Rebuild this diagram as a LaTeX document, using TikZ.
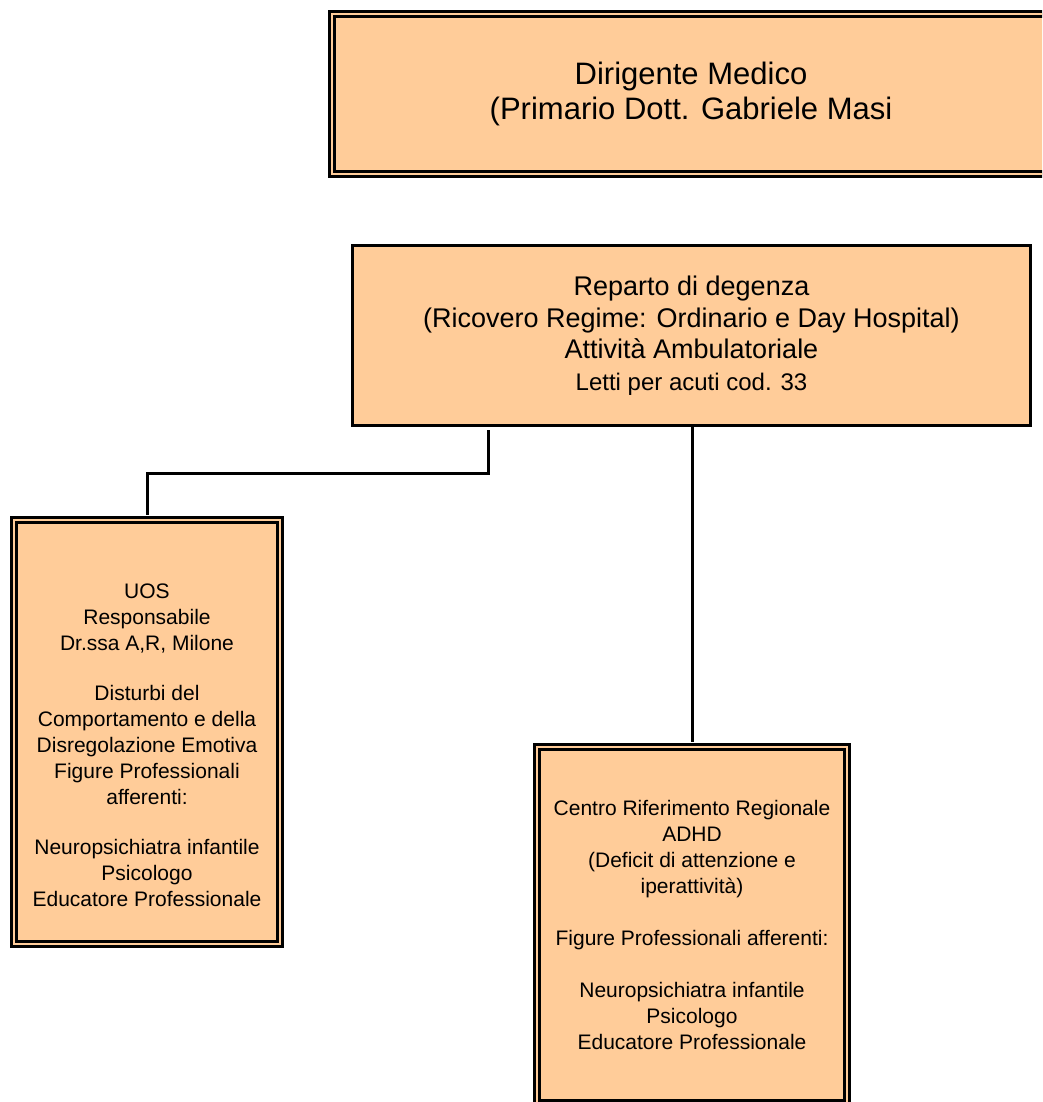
\documentclass[tikz,border=0pt]{standalone}
\usepackage{fontspec}
\setmainfont{Liberation Sans}
\definecolor{pesca}{HTML}{FFCC99}
\tikzset{box/.style={draw, fill=pesca, line width=3pt, inner sep=0pt, align=center},
  dbox/.style={box, line width=2.8pt, double=pesca, double distance=2pt},
  link/.style={line width=3pt}}

\begin{document}
\begin{tikzpicture}[x=1pt, y=-1pt]
\useasboundingbox (0,0) rectangle (1042,1102);
\clip (0,0) rectangle (1042,1102);
\node[dbox, minimum width=718pt, minimum height=160pt, font=\fontsize{31}{35.5}\selectfont] (Dir) at (691,94)
  {Dirigente Medico\\(Primario Dott. Gabriele Masi};
\node[box, minimum width=678pt, minimum height=180pt, font=\fontsize{27}{31.5}\selectfont] (Rep) at (691.5,335.5)
  {Reparto di degenza\\(Ricovero Regime: Ordinario e Day Hospital)\\Attività Ambulatoriale\\
   {\fontsize{24}{31}\selectfont Letti per acuti cod. 33}};
\node[dbox, minimum width=266pt, minimum height=424pt, font=\fontsize{21}{26}\selectfont] (UOS) at (147,732)
  {\mbox{}\\[16pt]UOS\\Responsabile\\Dr.ssa A,R, Milone\\[24pt]
   Disturbi del\\Comportamento e della\\Disregolazione Emotiva\\Figure Professionali\\afferenti:\\[24pt]
   Neuropsichiatra infantile\\Psicologo\\Educatore Professionale};
\node[dbox, minimum width=310pt, minimum height=356pt, font=\fontsize{21}{26}\selectfont] (ADHD) at (692,925)
  {Centro Riferimento Regionale\\ADHD\\(Deficit di attenzione e\\iperattività)\\[26pt]
   Figure Professionali afferenti:\\[26pt]
   Neuropsichiatra infantile\\Psicologo\\Educatore Professionale};
% collegamenti
\coordinate (L) at (488,430);
\draw[link, shorten >=4pt] (L) -- ++(0,43) -| (UOS.north);
\draw[link, shorten >=4pt] (Rep.south -| ADHD.north) -- (ADHD.north);
\end{tikzpicture}
\end{document}
